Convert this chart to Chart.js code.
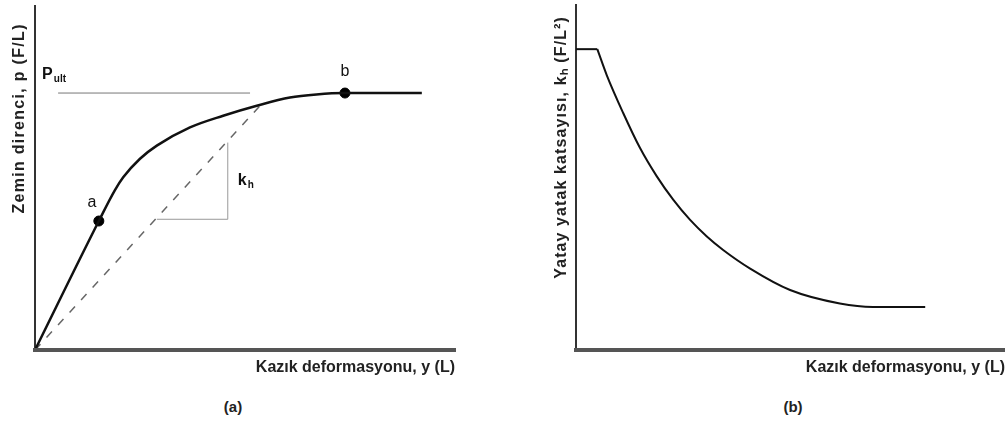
<!DOCTYPE html>
<html>
<head>
<meta charset="utf-8">
<script src="https://cdn.jsdelivr.net/npm/chart.js@4.4.1/dist/chart.umd.min.js"></script>
<style>
  body { margin: 0; background: #fff; overflow: hidden; }
  canvas { position: absolute; top: 0; }
  .cap { position: absolute; top: 398px; line-height: 20px; text-align: center;
         font: bold 15px "Liberation Sans", Arial, sans-serif; color: #222; }
</style>
</head>
<body>
<canvas id="chartA" width="464" height="395" style="left:0"></canvas>
<canvas id="chartB" width="465" height="395" style="left:540px"></canvas>
<div class="cap" style="left:0;width:466px">(a)</div>
<div class="cap" style="left:693px;width:200px">(b)</div>
<script>
// (a) p-y curve, deformation vs soil resistance (relative units 0-100)
var pyX = [0, 15.2, 19.0, 21.0, 25.0, 29.0, 36.9, 44.8, 52.8, 60.7, 67.0, 73.8, 92.1];
var pyY = [0, 37.5, 46.4, 50.2, 55.6, 59.4, 64.7, 68.1, 71.0, 73.4, 74.3, 74.7, 74.7];
var pointA = [15.2, 37.5];
var pointB = [73.8, 74.7];
var pultX = [5.5, 51.2];
var pultY = [74.7, 74.7];
var secantX = [0, 54.8];
var secantY = [0, 72.6];
var slopeX = [29.0, 45.9, 45.9];
var slopeY = [38.0, 38.0, 60.3];

// (b) horizontal subgrade reaction coefficient vs deformation
var plateauX = [0, 4.97];
var plateauY = [87.2, 87.2];
var decayX = [4.97, 7.16, 11.0, 14.9, 18.8, 22.7, 26.6, 30.5, 34.3, 40.6, 49.9, 61.5, 69.2, 81.4];
var decayY = [87.2, 79.7, 68.7, 58.6, 50.4, 43.5, 37.7, 32.9, 29.0, 23.6, 17.4, 13.5, 12.5, 12.5];

var FONT = '"Liberation Sans", Arial, sans-serif';

function pts(xs, ys) {
  return xs.map(function (x, i) { return { x: x, y: ys[i] }; });
}

function axes(xTitle, yTitle, yWidth, yPad) {
  return {
    x: {
      type: 'linear', min: 0, max: 100,
      ticks: { display: false },
      grid: { display: false, z: 1 },   // title drawn after datasets
      border: { color: '#555', width: 4, z: 1 },
      title: { display: true, text: xTitle, align: 'end', color: '#222',
               font: { family: FONT, size: 16, weight: 'bold' },
               padding: { top: 0, bottom: 18 } },
      afterFit: function (s) { s.height = 45; }
    },
    y: {
      type: 'linear', min: 0, max: 100,
      ticks: { display: false },
      grid: { display: false },
      border: { color: '#333', width: 2 },
      title: { display: true, text: yTitle, align: 'end', color: '#222',
               font: { family: FONT, size: 16, weight: 'bold' },
               padding: { top: yPad, bottom: 0 } },
      afterFit: function (s) { s.width = yWidth; }
    }
  };
}

// the vertical titles are set a little wider in the original
function spacing(px) {
  return {
    id: 'spacing',
    beforeDraw: function (chart) { chart.ctx.letterSpacing = px + 'px'; },
    beforeDatasetsDraw: function (chart) { chart.ctx.letterSpacing = '0px'; }
  };
}

// text with a smaller subscript part
function subText(ctx, main, sub, x, y) {
  ctx.textAlign = 'left';
  ctx.textBaseline = 'middle';
  ctx.font = 'bold 16px ' + FONT;
  ctx.fillText(main, x, y);
  var w = ctx.measureText(main).width;
  ctx.font = 'bold 10px ' + FONT;
  ctx.fillText(sub, x + w + 1, y + 4);
}

var labelsA = {
  id: 'labelsA',
  afterDatasetsDraw: function (chart) {
    var ctx = chart.ctx, sx = chart.scales.x, sy = chart.scales.y;
    ctx.save();
    ctx.fillStyle = '#111';
    ctx.font = '16px ' + FONT;
    ctx.textAlign = 'center';
    ctx.textBaseline = 'middle';
    ctx.fillText('a', sx.getPixelForValue(pointA[0]) - 7, sy.getPixelForValue(pointA[1]) - 18);
    ctx.fillText('b', sx.getPixelForValue(pointB[0]), sy.getPixelForValue(pointB[1]) - 21);
    subText(ctx, 'P', 'ult', sx.getPixelForValue(pultX[0]) - 16, sy.getPixelForValue(pultY[0]) - 18);
    var kx = sx.getPixelForValue(slopeX[2]) + 10;
    var ky = (sy.getPixelForValue(slopeY[1]) + sy.getPixelForValue(slopeY[2])) / 2;
    subText(ctx, 'k', 'h', kx, ky);
    ctx.restore();
  }
};

new Chart(document.getElementById('chartA'), {
  type: 'line',
  data: {
    datasets: [
      { data: pts(pyX, pyY), borderColor: '#111', borderWidth: 2.5, pointRadius: 0,
        cubicInterpolationMode: 'monotone' },
      { data: pts(pultX, pultY), borderColor: '#777', borderWidth: 1, pointRadius: 0 },
      { data: pts(secantX, secantY), borderColor: '#666', borderWidth: 1.5, pointRadius: 0,
        borderDash: [8, 9] },
      { data: pts(slopeX, slopeY), borderColor: '#999', borderWidth: 1, pointRadius: 0 },
      { data: [{ x: pointA[0], y: pointA[1] }, { x: pointB[0], y: pointB[1] }],
        showLine: false, pointRadius: 5, pointBackgroundColor: '#000', pointBorderColor: '#000' }
    ]
  },
  options: {
    responsive: false,
    animation: false,
    layout: { padding: { top: 5, right: 9, left: 0, bottom: 0 } },
    plugins: { legend: { display: false }, tooltip: { enabled: false } },
    scales: axes('Kazık deformasyonu, y (L)', 'Zemin direnci, p (F/L)   ', 35, 10)
  },
  plugins: [spacing(1.3), labelsA]
});

new Chart(document.getElementById('chartB'), {
  type: 'line',
  data: {
    datasets: [
      { data: pts(plateauX, plateauY), borderColor: '#111', borderWidth: 2, pointRadius: 0 },
      { data: pts(decayX, decayY), borderColor: '#111', borderWidth: 2, pointRadius: 0,
        cubicInterpolationMode: 'monotone' }
    ]
  },
  options: {
    responsive: false,
    animation: false,
    layout: { padding: { top: 5, right: 0, left: 0, bottom: 0 } },
    plugins: { legend: { display: false }, tooltip: { enabled: false } },
    scales: axes('Kazık deformasyonu, y (L)', 'Yatay yatak katsayısı, kₕ (F/L²)  ', 36, 12.4)
  },
  plugins: [spacing(1.1)]
});
</script>
</body>
</html>
